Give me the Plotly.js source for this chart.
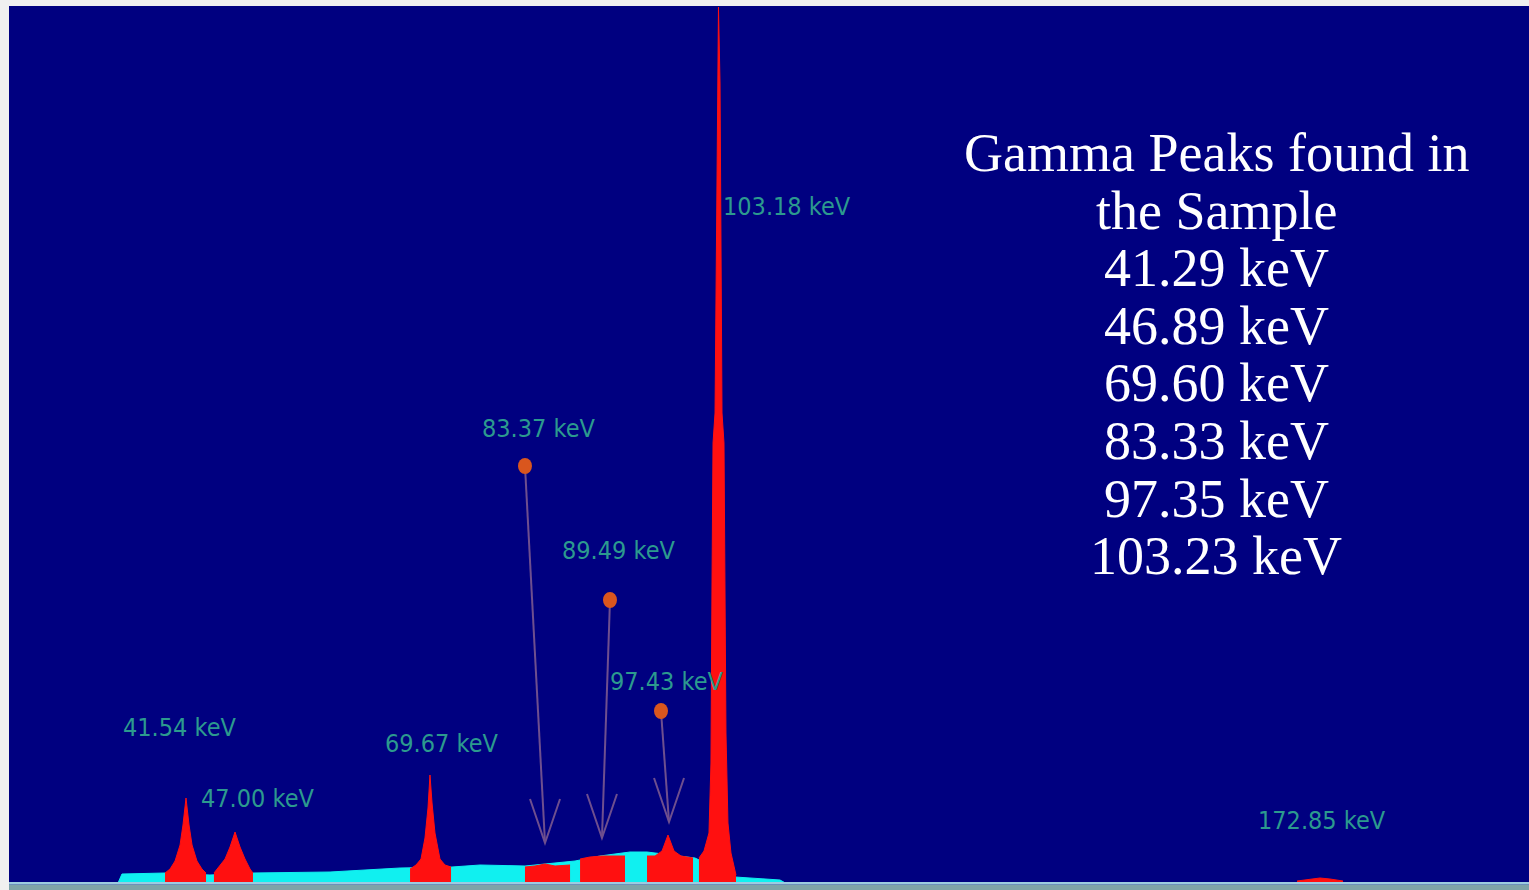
<!DOCTYPE html>
<html><head><meta charset="utf-8">
<script src="https://cdn.plot.ly/plotly-3.0.1.min.js"></script>
<style>html,body{margin:0;padding:0;background:#f0f0f0;overflow:hidden}#chart{width:1529px;height:890px}</style>
</head><body><div id="chart"></div>
<script>
// ---- DATA (energy in keV, counts in arbitrary units) ----
const contEnergy = [33.66, 34.12, 39.11, 44.32, 49.30, 58.23, 66.34, 72.36, 75.61, 80.82, 86.62, 89.51, 92.99, 94.96, 100.52, 105.16, 110.37, 111.00];
const contCounts = [0, 9, 10, 8, 10, 11, 15, 16, 18, 17, 22, 27, 31, 31, 25, 6, 3, 0];

const roi1Energy = [39.11, 39.69, 40.27, 40.85, 41.19, 41.54, 41.89, 42.24, 42.81, 43.39, 43.86];
const roi1Counts = [10, 14, 22, 38, 58, 85, 58, 38, 22, 14, 10];

const roi2Energy = [44.78, 45.36, 46.06, 46.64, 47.22, 47.80, 48.38, 48.96, 49.30];
const roi2Counts = [10, 16, 24, 36, 51, 36, 24, 14, 10];

const roi3Energy = [67.50, 68.19, 68.77, 69.23, 69.58, 69.81, 70.05, 70.39, 70.97, 71.55, 72.25];
const roi3Counts = [14, 18, 24, 45, 75, 108, 80, 50, 24, 18, 16];

const roi4Energy = [80.82, 81.98, 83.14, 84.30, 86.04];
const roi4Counts = [16, 17, 19, 17, 18];

const roi5Energy = [87.20, 88.35, 89.74, 91.25, 92.41];
const roi5Counts = [24, 26, 27, 27, 27];

const roi6Energy = [94.96, 95.89, 96.70, 97.39, 98.09, 98.90, 100.29];
const roi6Counts = [27, 27, 32, 48, 32, 27, 25];

const roi7Energy = [100.98, 101.56, 102.14, 102.37, 102.49, 102.61, 102.84, 102.95, 103.13, 103.24, 103.42, 103.53, 103.65, 103.88, 104.00, 104.11, 104.34, 104.69, 105.27];
const roi7Counts = [25, 32, 50, 120, 300, 440, 470, 600, 800, 876, 800, 600, 470, 440, 300, 150, 60, 30, 8];

const roi8Energy = [170.28, 171.78, 172.94, 174.10, 175.61];
const roi8Counts = [2, 4, 5, 4, 2];

const peakLabels = ['41.54 keV', '47.00 keV', '69.67 keV', '83.37 keV', '89.49 keV', '97.43 keV', '103.18 keV', '172.85 keV'];
const foundTitle = ['Gamma Peaks found in', 'the Sample'];
const foundPeaks = ['41.29 keV', '46.89 keV', '69.60 keV', '83.33 keV', '97.35 keV', '103.23 keV'];

// ---- LAYOUT / STYLE ----
const RED = '#ff1010', CYAN = '#10f0f0';
const rois = [[roi1Energy, roi1Counts], [roi2Energy, roi2Counts], [roi3Energy, roi3Counts], [roi4Energy, roi4Counts],
              [roi5Energy, roi5Counts], [roi6Energy, roi6Counts], [roi7Energy, roi7Counts], [roi8Energy, roi8Counts]];

const traces = [{
  x: contEnergy, y: contCounts, type: 'scatter', mode: 'lines', fill: 'tozeroy',
  line: {color: CYAN, width: 1}, fillcolor: CYAN, hoverinfo: 'skip'
}];
rois.forEach(r => traces.push({
  x: r[0], y: r[1], type: 'scatter', mode: 'lines', fill: 'tozeroy',
  line: {color: RED, width: 1}, fillcolor: RED, hoverinfo: 'skip'
}));

// label placement (keV, counts) for each peak label
const labelPos = [[40.73, 156], [49.88, 85], [71.09, 140], [82.33, 455], [91.71, 333], [97.16, 202], [111.18, 677], [173.17, 63]];
// arrows: [label index, dot keV, dot counts, tip keV, tip counts]
const arrows = [[3, 80.82, 417, 83.14, 40], [4, 90.67, 283, 89.74, 45], [5, 96.58, 172, 97.51, 61]];

const annotations = [];
peakLabels.forEach((t, i) => annotations.push({
  x: labelPos[i][0], y: labelPos[i][1], xref: 'x', yref: 'y', text: t, showarrow: false,
  xanchor: 'center', yanchor: 'middle',
  font: {family: 'DejaVu Sans Condensed, Liberation Sans Narrow, sans-serif', size: 25, color: '#2c9a8e'}
}));
const blockLines = foundTitle.concat(foundPeaks);
blockLines.forEach((t, i) => annotations.push({
  x: (1216 - 9) / 1520, y: (890 - (153 + i * 57.6)) / 884, xref: 'paper', yref: 'paper',
  text: t, showarrow: false, xanchor: 'center', yanchor: 'middle',
  font: {family: 'Liberation Serif, Times New Roman, serif', size: 54, color: '#ffffff'}
}));

const ARROW = '#6e4f8e';
const shapes = [];
arrows.forEach(a => {
  shapes.push({type: 'line', xref: 'x', yref: 'y', x0: a[1], y0: a[2], x1: a[3], y1: a[4], line: {color: ARROW, width: 2}, layer: 'above'});
  shapes.push({type: 'path', xref: 'x', yref: 'y', xsizemode: 'pixel', ysizemode: 'pixel', xanchor: a[3], yanchor: a[4],
    path: 'M-15,44L0,0L15,44', line: {color: ARROW, width: 2}, layer: 'above'});
  shapes.push({type: 'circle', xref: 'x', yref: 'y', xsizemode: 'pixel', ysizemode: 'pixel', xanchor: a[1], yanchor: a[2],
    x0: -7, x1: 7, y0: -8, y1: 8, fillcolor: '#d9561e', line: {width: 0}, layer: 'above'});
});
// bottom baseline strip
shapes.push({type: 'rect', xref: 'paper', yref: 'y', x0: 0, x1: 1, y0: -7, y1: -1.5, fillcolor: '#7fa3a8', line: {width: 0}, layer: 'above'});
shapes.push({type: 'rect', xref: 'paper', yref: 'y', x0: 0, x1: 1, y0: -1.5, y1: 1, fillcolor: '#9ccbe0', line: {width: 0}, layer: 'above'});

const layout = {
  width: 1529, height: 890,
  margin: {l: 9, r: 0, t: 6, b: 0, pad: 0},
  paper_bgcolor: '#f0f0f0', plot_bgcolor: '#000080',
  showlegend: false,
  xaxis: {range: [21.03, 197.16], visible: false, fixedrange: true},
  yaxis: {range: [-7, 877], visible: false, fixedrange: true},
  annotations: annotations, shapes: shapes
};
Plotly.newPlot('chart', traces, layout, {staticPlot: true, displayModeBar: false});
</script></body></html>
